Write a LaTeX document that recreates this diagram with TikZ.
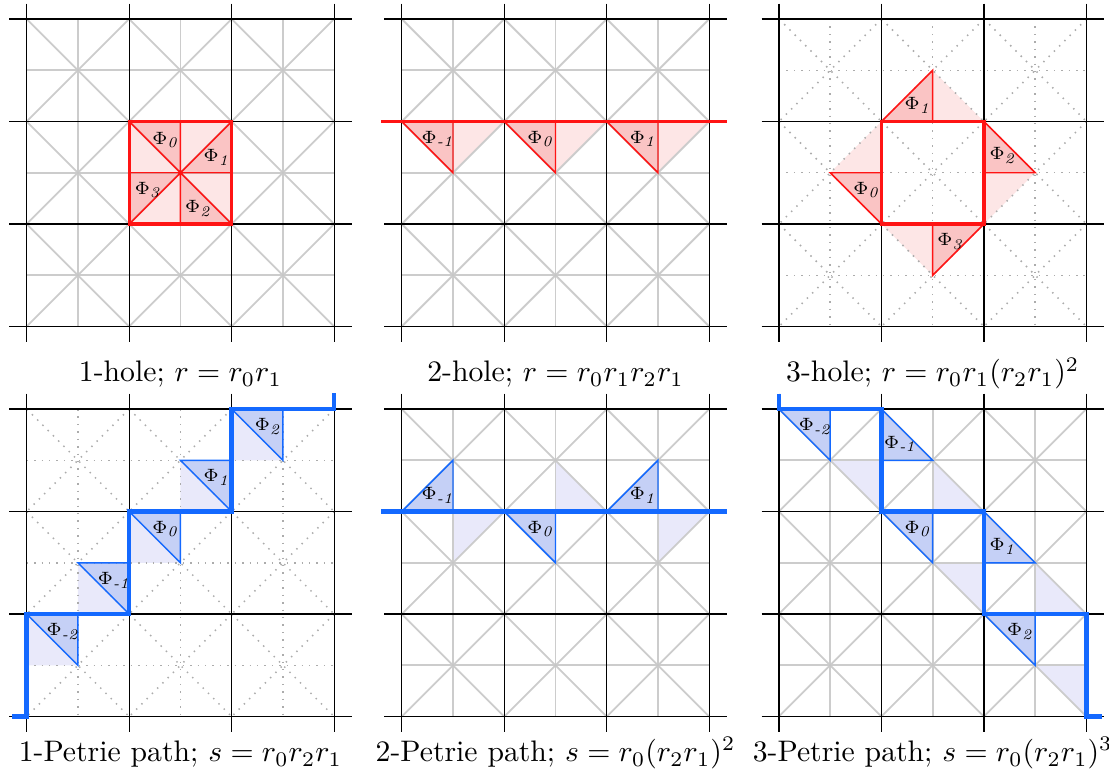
\documentclass[tikz,border=0pt]{standalone}
\usepackage{amsmath}
\usepackage{tikz}
\usetikzlibrary{calc}
\usepackage{xcolor}

\definecolor{holered}{RGB}{255,20,20}
\definecolor{holedark}{RGB}{250,196,196}
\definecolor{holelight}{RGB}{253,230,230}
\definecolor{pathblue}{RGB}{20,105,255}
\definecolor{pathdark}{RGB}{197,208,246}
\definecolor{pathlight}{RGB}{233,233,250}

\newcommand{\flaggrid}[1]{%
  \foreach \i in {0,1,2} {
    \foreach \j in {0,1,2} {
      \draw[#1] (\i,\j) -- (\i+1,\j+1);
      \draw[#1] (\i+1,\j) -- (\i,\j+1);
    }
    \draw[#1] (\i+0.5,0) -- (\i+0.5,3);
    \draw[#1] (0,\i+0.5) -- (3,\i+0.5);
  }
  \foreach \k in {0,...,3} {
    \draw[edge] (\k,-0.15) -- (\k,3.15);
    \draw[edge] (-0.17,\k) -- (3.17,\k);
  }
}

\newcommand{\centredots}{%
  \foreach \i in {0,1,2}
    \foreach \j in {0,1,2}
      \fill[gray!45] (\i+0.5,\j+0.5) circle (0.014);
}

\begin{document}
\begin{tikzpicture}[x=34.5pt, y=-34.5pt,
  edge/.style={black, line width=0.45pt},
  sub/.style={gray!40, line width=0.6pt},
  subdot/.style={gray!65, line width=0.5pt, dotted},
  holeline/.style={holered, line width=0.5pt},
  holebound/.style={holered, line width=1.1pt},
  pathline/.style={pathblue, line width=0.5pt},
  pathbound/.style={pathblue, line width=1.5pt},
  flag/.style={font=\fontsize{6}{7}\selectfont, inner sep=0pt},
  caption/.style={font=\fontsize{10}{12}\selectfont, anchor=base}
]
  \useasboundingbox (-0.2605,-0.1854) rectangle (10.559,7.444);

  % 1-hole
  \begin{scope}[shift={(0,0)}]
    \fill[holelight] (1,1) rectangle (2,2);
    \fill[holedark] (1,1) -- (1.5,1) -- (1.5,1.5) -- cycle;
    \fill[holedark] (2,1) -- (2,1.5) -- (1.5,1.5) -- cycle;
    \fill[holedark] (2,2) -- (1.5,2) -- (1.5,1.5) -- cycle;
    \fill[holedark] (1,2) -- (1,1.5) -- (1.5,1.5) -- cycle;
    \flaggrid{sub}
    \centredots
    \draw[holeline] (1,1) -- (2,2) (2,1) -- (1,2) (1.5,1) -- (1.5,2) (1,1.5) -- (2,1.5);
    \draw[holebound] (1,1) rectangle (2,2);
    \fill[holered] (1.5,1.5) circle (0.02);
    \node[flag] (a0) at (1.35,1.18) {$\Phi_{\textit{0}}$};
    \node[flag] (a1) at (1.85,1.35) {$\Phi_{\textit{1}}$};
    \node[flag] (a2) at (1.67,1.85) {$\Phi_{\textit{2}}$};
    \node[flag] (a3) at (1.18,1.67) {$\Phi_{\textit{3}}$};
    \node[caption] (cap1) at (1.5,3.54) {1-hole; $r=r_0r_1$};
  \end{scope}

  % 2-hole
  \begin{scope}[shift={(3.659,0)}]
    \foreach \i in {0,1,2} {
      \fill[holedark] (\i,1) -- (\i+0.5,1) -- (\i+0.5,1.5) -- cycle;
      \fill[holelight] (\i+0.5,1) -- (\i+1,1) -- (\i+0.5,1.5) -- cycle;
    }
    \flaggrid{sub}
    \centredots
    \foreach \i in {0,1,2}
      \draw[holeline] (\i,1) -- (\i+0.5,1.5) -- (\i+0.5,1);
    \draw[holebound] (-0.2,1) -- (3.17,1);
    \node[flag] (b0) at (0.35,1.17) {$\Phi_{\textit{-1}}$};
    \node[flag] (b1) at (1.35,1.17) {$\Phi_{\textit{0}}$};
    \node[flag] (b2) at (2.35,1.17) {$\Phi_{\textit{1}}$};
    \node[caption] (cap2) at (1.5,3.54) {2-hole; $r=r_0r_1r_2r_1$};
  \end{scope}

  % 3-hole
  \begin{scope}[shift={(7.339,0)}]
    \fill[holedark] (1,1) -- (1.5,0.5) -- (1.5,1) -- cycle;
    \fill[holelight] (1.5,0.5) -- (2,1) -- (1.5,1) -- cycle;
    \fill[holedark] (2,1) -- (2.5,1.5) -- (2,1.5) -- cycle;
    \fill[holelight] (2,1.5) -- (2.5,1.5) -- (2,2) -- cycle;
    \fill[holedark] (2,2) -- (1.5,2.5) -- (1.5,2) -- cycle;
    \fill[holelight] (1.5,2) -- (1.5,2.5) -- (1,2) -- cycle;
    \fill[holedark] (1,2) -- (0.5,1.5) -- (1,1.5) -- cycle;
    \fill[holelight] (1,1.5) -- (0.5,1.5) -- (1,1) -- cycle;
    \flaggrid{subdot}
    \draw[holeline] (1,1) -- (1.5,0.5) -- (1.5,1);
    \draw[holeline] (2,1) -- (2.5,1.5) -- (2,1.5);
    \draw[holeline] (2,2) -- (1.5,2.5) -- (1.5,2);
    \draw[holeline] (1,2) -- (0.5,1.5) -- (1,1.5);
    \draw[holebound] (1,1) rectangle (2,2);
    \node[flag] (c0) at (0.85,1.67) {$\Phi_{\textit{0}}$};
    \node[flag] (c1) at (1.35,0.84) {$\Phi_{\textit{1}}$};
    \node[flag] (c2) at (2.18,1.33) {$\Phi_{\textit{2}}$};
    \node[flag] (c3) at (1.67,2.17) {$\Phi_{\textit{3}}$};
    \node[caption] (cap3) at (1.5,3.54) {3-hole; $r=r_0r_1(r_2r_1)^2$};
  \end{scope}

  % 1-Petrie path
  \begin{scope}[shift={(0,3.805)}]
    \foreach \x/\y in {0/2, 0.5/1.5, 1/1, 1.5/0.5, 2/0} {
      \fill[pathdark] (\x,\y) -- (\x+0.5,\y) -- (\x+0.5,\y+0.5) -- cycle;
      \fill[pathlight] (\x,\y) -- (\x,\y+0.5) -- (\x+0.5,\y+0.5) -- cycle;
    }
    \flaggrid{subdot}
    \foreach \x/\y in {0/2, 1/1, 2/0}
      \draw[pathline] (\x,\y) -- (\x+0.5,\y+0.5) -- (\x+0.5,\y);
    \foreach \x/\y in {0.5/1.5, 1.5/0.5}
      \draw[pathline] (\x+0.5,\y) -- (\x,\y) -- (\x+0.5,\y+0.5);
    \draw[pathbound] (-0.14,3) -- (0,3) -- (0,2) -- (1,2) -- (1,1) -- (2,1) -- (2,0) -- (3,0) -- (3,-0.16);
    \node[flag] (d0) at (0.35,2.17) {$\Phi_{\textit{-2}}$};
    \node[flag] (d1) at (0.85,1.67) {$\Phi_{\textit{-1}}$};
    \node[flag] (d2) at (1.35,1.17) {$\Phi_{\textit{0}}$};
    \node[flag] (d3) at (1.85,0.67) {$\Phi_{\textit{1}}$};
    \node[flag] (d4) at (2.35,0.17) {$\Phi_{\textit{2}}$};
    \node[caption] (cap4) at (1.5,3.44) {1-Petrie path; $s=r_0r_2r_1$};
  \end{scope}

  % 2-Petrie path
  \begin{scope}[shift={(3.659,3.805)}]
    \fill[pathdark] (0,1) -- (0.5,0.5) -- (0.5,1) -- cycle;
    \fill[pathlight] (0.5,1) -- (1,1) -- (0.5,1.5) -- cycle;
    \fill[pathdark] (1,1) -- (1.5,1) -- (1.5,1.5) -- cycle;
    \fill[pathlight] (1.5,1) -- (2,1) -- (1.5,0.5) -- cycle;
    \fill[pathdark] (2,1) -- (2.5,0.5) -- (2.5,1) -- cycle;
    \fill[pathlight] (2.5,1) -- (3,1) -- (2.5,1.5) -- cycle;
    \flaggrid{sub}
    \centredots
    \draw[pathline] (0,1) -- (0.5,0.5) -- (0.5,1);
    \draw[pathline] (1,1) -- (1.5,1.5) -- (1.5,1);
    \draw[pathline] (2,1) -- (2.5,0.5) -- (2.5,1);
    \draw[pathbound] (-0.2,1) -- (3.17,1);
    \node[flag] (e0) at (0.35,0.84) {$\Phi_{\textit{-1}}$};
    \node[flag] (e1) at (1.35,1.17) {$\Phi_{\textit{0}}$};
    \node[flag] (e2) at (2.35,0.84) {$\Phi_{\textit{1}}$};
    \node[caption] (cap5) at (1.5,3.44) {2-Petrie path; $s=r_0(r_2r_1)^2$};
  \end{scope}

  % 3-Petrie path
  \begin{scope}[shift={(7.339,3.805)}]
    \foreach \x/\y in {0/0, 1/1, 2/2} {
      \fill[pathdark] (\x,\y) -- (\x+0.5,\y) -- (\x+0.5,\y+0.5) -- cycle;
      \fill[pathlight] (\x+0.5,\y+0.5) -- (\x+1,\y+0.5) -- (\x+1,\y+1) -- cycle;
    }
    \foreach \x/\y in {1/0, 2/1} {
      \fill[pathdark] (\x,\y) -- (\x+0.5,\y+0.5) -- (\x,\y+0.5) -- cycle;
      \fill[pathlight] (\x+0.5,\y+0.5) -- (\x+0.5,\y+1) -- (\x+1,\y+1) -- cycle;
    }
    \flaggrid{sub}
    \centredots
    \foreach \x/\y in {0/0, 1/1, 2/2}
      \draw[pathline] (\x,\y) -- (\x+0.5,\y+0.5) -- (\x+0.5,\y);
    \foreach \x/\y in {1/0, 2/1}
      \draw[pathline] (\x,\y) -- (\x+0.5,\y+0.5) -- (\x,\y+0.5);
    \draw[pathbound] (0,-0.15) -- (0,0) -- (1,0) -- (1,1) -- (2,1) -- (2,2) -- (3,2) -- (3,3) -- (3.15,3);
    \node[flag] (f0) at (0.35,0.17) {$\Phi_{\textit{-2}}$};
    \node[flag] (f1) at (1.18,0.34) {$\Phi_{\textit{-1}}$};
    \node[flag] (f2) at (1.35,1.17) {$\Phi_{\textit{0}}$};
    \node[flag] (f3) at (2.18,1.34) {$\Phi_{\textit{1}}$};
    \node[flag] (f4) at (2.35,2.17) {$\Phi_{\textit{2}}$};
    \node[caption] (cap6) at (1.5,3.44) {3-Petrie path; $s=r_0(r_2r_1)^3$};
  \end{scope}
\end{tikzpicture}
\end{document}
